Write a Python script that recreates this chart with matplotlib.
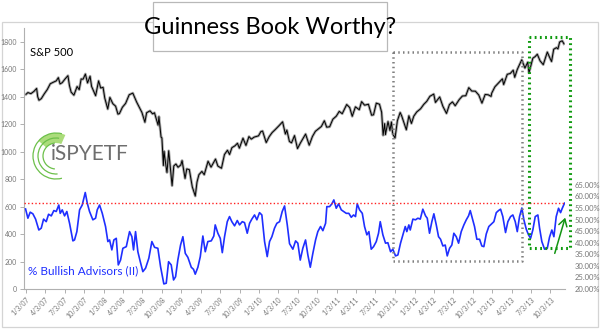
import matplotlib
matplotlib.use("Agg")
import matplotlib.pyplot as plt
from matplotlib.patches import Rectangle, Arc, Wedge
from datetime import datetime, date

# ---------------- data ----------------
sp_dates = [
    "2007-01-03", "2007-01-12", "2007-01-26", "2007-02-09", "2007-02-22", "2007-02-27", "2007-03-05",
    "2007-03-16", "2007-03-30", "2007-04-13", "2007-04-27", "2007-05-11", "2007-05-25", "2007-06-04",
    "2007-06-12", "2007-06-22", "2007-07-06", "2007-07-19", "2007-07-26", "2007-08-03", "2007-08-16",
    "2007-08-31", "2007-09-10", "2007-09-19", "2007-09-28", "2007-10-09", "2007-10-19", "2007-10-31",
    "2007-11-07", "2007-11-26", "2007-12-10", "2007-12-20", "2007-12-31",
    "2008-01-08", "2008-01-22", "2008-02-01", "2008-02-15", "2008-02-28", "2008-03-10", "2008-03-17",
    "2008-03-31", "2008-04-15", "2008-05-02", "2008-05-19", "2008-06-06", "2008-06-20", "2008-07-01",
    "2008-07-15", "2008-07-23", "2008-08-08", "2008-08-20", "2008-08-29", "2008-09-15", "2008-09-19",
    "2008-09-29", "2008-10-03", "2008-10-10", "2008-10-13", "2008-10-22", "2008-10-27", "2008-11-04",
    "2008-11-20", "2008-11-28", "2008-12-08", "2008-12-18", "2008-12-31",
    "2009-01-06", "2009-01-20", "2009-01-28", "2009-02-09", "2009-02-23", "2009-03-09", "2009-03-17",
    "2009-03-26", "2009-04-09", "2009-04-20", "2009-05-08", "2009-05-22", "2009-06-12", "2009-06-23",
    "2009-07-10", "2009-07-24", "2009-08-07", "2009-08-17", "2009-08-28", "2009-09-11", "2009-09-23",
    "2009-10-02", "2009-10-19", "2009-11-02", "2009-11-16", "2009-11-27", "2009-12-11", "2009-12-31",
    "2010-01-11", "2010-01-19", "2010-02-05", "2010-02-19", "2010-03-05", "2010-03-19", "2010-04-05",
    "2010-04-23", "2010-05-06", "2010-05-13", "2010-05-25", "2010-06-04", "2010-06-18", "2010-07-02",
    "2010-07-16", "2010-07-30", "2010-08-09", "2010-08-26", "2010-09-10", "2010-09-24", "2010-10-08",
    "2010-10-22", "2010-11-05", "2010-11-16", "2010-11-30", "2010-12-15", "2010-12-31",
    "2011-01-14", "2011-01-28", "2011-02-18", "2011-03-04", "2011-03-16", "2011-03-31", "2011-04-18",
    "2011-04-29", "2011-05-13", "2011-05-31", "2011-06-15", "2011-06-24", "2011-07-07", "2011-07-22",
    "2011-08-01", "2011-08-08", "2011-08-15", "2011-08-19", "2011-08-31", "2011-09-09", "2011-09-16",
    "2011-09-22", "2011-10-03", "2011-10-14", "2011-10-27", "2011-11-03", "2011-11-25", "2011-12-07",
    "2011-12-19", "2011-12-30",
    "2012-01-13", "2012-01-31", "2012-02-15", "2012-02-29", "2012-03-15", "2012-04-02", "2012-04-10",
    "2012-04-30", "2012-05-15", "2012-06-01", "2012-06-15", "2012-06-29", "2012-07-12", "2012-07-31",
    "2012-08-15", "2012-08-31", "2012-09-14", "2012-09-28", "2012-10-15", "2012-10-31", "2012-11-15",
    "2012-11-30", "2012-12-14", "2012-12-28", "2012-12-31",
    "2013-01-15", "2013-01-31", "2013-02-19", "2013-02-25", "2013-03-14", "2013-03-28", "2013-04-11",
    "2013-04-18", "2013-04-30", "2013-05-21", "2013-06-05", "2013-06-18", "2013-06-24", "2013-07-12",
    "2013-07-23", "2013-08-02", "2013-08-15", "2013-08-30", "2013-09-18", "2013-09-30", "2013-10-08",
    "2013-10-18", "2013-10-31", "2013-11-07", "2013-11-15", "2013-11-27", "2013-12-05",
]
sp_values = [
    1417, 1430, 1422, 1438, 1460, 1400, 1374,
    1386, 1421, 1452, 1494, 1505, 1515, 1539,
    1493, 1502, 1530, 1553, 1482, 1433, 1411,
    1474, 1451, 1529, 1527, 1565, 1500, 1549,
    1475, 1407, 1515, 1463, 1468,
    1390, 1310, 1395, 1349, 1331, 1273, 1277,
    1323, 1351, 1414, 1426, 1361, 1318, 1285,
    1214, 1283, 1297, 1275, 1283, 1193, 1255,
    1106, 1100, 899, 1003, 897, 848, 1006,
    752, 896, 910, 886, 903,
    935, 805, 874, 869, 743, 677, 778,
    832, 856, 832, 930, 887, 946, 895,
    879, 979, 1010, 979, 1029, 1042, 1061,
    1025, 1098, 1045, 1110, 1091, 1106, 1115,
    1146, 1150, 1066, 1109, 1139, 1160, 1187,
    1217, 1128, 1157, 1074, 1064, 1117, 1022,
    1064, 1102, 1128, 1047, 1110, 1148, 1166,
    1183, 1225, 1178, 1181, 1236, 1258,
    1293, 1276, 1343, 1321, 1257, 1326, 1305,
    1364, 1338, 1345, 1265, 1268, 1353, 1345,
    1287, 1119, 1204, 1124, 1219, 1154, 1216,
    1129, 1099, 1225, 1285, 1261, 1159, 1261,
    1205, 1258,
    1289, 1312, 1344, 1366, 1403, 1419, 1358,
    1398, 1330, 1278, 1343, 1362, 1334, 1379,
    1405, 1407, 1466, 1441, 1440, 1412, 1353,
    1416, 1414, 1402, 1426,
    1472, 1498, 1530, 1488, 1563, 1569, 1593,
    1541, 1598, 1669, 1608, 1651, 1573, 1680,
    1692, 1709, 1661, 1633, 1725, 1682, 1656,
    1745, 1757, 1748, 1798, 1807, 1785,
]

bull_years = [
    2007.000, 2007.030, 2007.060, 2007.094, 2007.129, 2007.171, 2007.202, 2007.232, 2007.266, 2007.296,
    2007.331, 2007.364, 2007.395, 2007.428, 2007.446, 2007.472, 2007.502, 2007.531, 2007.566, 2007.609,
    2007.630, 2007.660, 2007.695, 2007.729, 2007.768, 2007.794, 2007.823, 2007.866, 2007.901, 2007.922,
    2007.952, 2007.987, 2008.029, 2008.059, 2008.081, 2008.110, 2008.136, 2008.167, 2008.193, 2008.222,
    2008.252, 2008.296, 2008.338, 2008.368, 2008.389, 2008.415, 2008.445, 2008.476, 2008.509, 2008.544,
    2008.586, 2008.625, 2008.660, 2008.702, 2008.737, 2008.779, 2008.810, 2008.840, 2008.874, 2008.904,
    2008.930, 2008.959, 2008.994, 2009.024, 2009.055, 2009.088, 2009.132, 2009.161, 2009.183, 2009.217,
    2009.248, 2009.281, 2009.312, 2009.345, 2009.389, 2009.422, 2009.440, 2009.474, 2009.505, 2009.531,
    2009.560, 2009.595, 2009.624, 2009.654, 2009.689, 2009.724, 2009.753, 2009.788, 2009.817, 2009.852,
    2009.882, 2009.911, 2009.946, 2009.976, 2010.010, 2010.040, 2010.075, 2010.109, 2010.139, 2010.169,
    2010.203, 2010.233, 2010.268, 2010.302, 2010.332, 2010.367, 2010.396, 2010.439, 2010.474, 2010.503,
    2010.534, 2010.567, 2010.602, 2010.632, 2010.663, 2010.696, 2010.731, 2010.760, 2010.795, 2010.825,
    2010.860, 2010.876, 2010.911, 2010.941, 2010.966, 2010.997, 2011.027, 2011.062, 2011.091, 2011.126,
    2011.159, 2011.190, 2011.220, 2011.245, 2011.267, 2011.297, 2011.332, 2011.361, 2011.391, 2011.417,
    2011.447, 2011.477, 2011.512, 2011.541, 2011.563, 2011.597, 2011.631, 2011.661, 2011.696, 2011.725,
    2011.760, 2011.790, 2011.824, 2011.854, 2011.885, 2011.905, 2011.931, 2011.949, 2011.983, 2012.017,
    2012.047, 2012.078, 2012.111, 2012.146, 2012.168, 2012.197, 2012.227, 2012.253, 2012.284, 2012.313,
    2012.339, 2012.369, 2012.399, 2012.425, 2012.455, 2012.484, 2012.510, 2012.541, 2012.571, 2012.605,
    2012.639, 2012.670, 2012.699, 2012.721, 2012.747, 2012.776, 2012.806, 2012.841, 2012.870, 2012.896,
    2012.927, 2012.960, 2012.991, 2013.025, 2013.056, 2013.085, 2013.111, 2013.140, 2013.175, 2013.205,
    2013.240, 2013.269, 2013.300, 2013.326, 2013.355, 2013.385, 2013.411, 2013.442, 2013.471, 2013.497,
    2013.526, 2013.557, 2013.591, 2013.613, 2013.642, 2013.677, 2013.712, 2013.741, 2013.771, 2013.797,
    2013.827, 2013.857, 2013.883, 2013.905, 2013.934,
]
bull_pct = [
    54.6, 50.6, 53.2, 52.5, 50.2, 45.5, 46.3, 50.2, 49.1, 52.3,
    51.6, 53.9, 53.5, 56.3, 52.7, 54.2, 51.6, 53.5, 48.4, 40.8,
    41.2, 44.8, 54.2, 56.3, 61.7, 57.1, 53.5, 49.9, 50.6, 54.2,
    56.3, 52.7, 47.0, 40.5, 41.2, 36.9, 41.2, 41.9, 30.4, 32.5,
    37.6, 38.3, 44.8, 42.6, 36.9, 44.8, 36.1, 31.8, 27.5, 29.0,
    33.3, 40.5, 38.0, 37.6, 29.6, 22.2, 22.5, 31.8, 30.4, 23.9,
    25.3, 32.5, 39.0, 42.6, 35.4, 33.7, 29.4, 28.5, 26.4, 29.4,
    34.0, 42.9, 36.1, 40.5, 40.8, 42.9, 47.7, 44.1, 41.9, 35.7,
    42.6, 49.1, 51.3, 49.1, 47.3, 49.6, 47.7, 49.1, 48.7, 44.1,
    48.4, 50.2, 52.0, 49.9, 53.0, 52.0, 40.5, 34.0, 40.5, 42.6,
    46.3, 48.4, 49.1, 53.5, 55.9, 47.7, 39.6, 37.2, 40.8, 39.8,
    32.5, 37.6, 41.2, 34.7, 29.4, 35.4, 41.2, 44.8, 47.0, 45.2,
    48.4, 55.6, 55.6, 56.8, 58.5, 54.9, 56.8, 54.2, 53.5, 52.7,
    52.7, 51.0, 52.0, 51.3, 56.8, 54.2, 52.7, 47.0, 43.4, 44.8,
    37.2, 38.3, 40.5, 44.1, 49.1, 43.4, 39.8, 40.0, 36.1, 37.2,
    34.3, 34.7, 39.8, 43.4, 47.0, 44.8, 47.7, 45.5, 50.2, 49.9,
    50.6, 50.2, 54.5, 51.6, 50.6, 44.1, 49.1, 52.5, 47.7, 42.6,
    41.5, 38.6, 39.0, 34.3, 37.6, 39.0, 44.1, 42.6, 39.8, 44.8,
    47.7, 49.9, 51.6, 53.9, 50.6, 47.0, 41.5, 41.5, 38.6, 38.3,
    43.8, 47.0, 48.0, 49.1, 53.0, 53.9, 54.5, 51.3, 44.4, 49.1,
    51.3, 52.0, 49.1, 44.8, 51.3, 55.0, 49.9, 45.8, 43.4, 41.9,
    45.5, 51.3, 52.0, 46.3, 40.5, 37.2, 37.6, 42.4, 45.5, 42.6,
    51.3, 54.9, 53.0, 54.9, 57.1,
]

tick_labels = [
    "1/3/07", "4/3/07", "7/3/07", "10/3/07", "1/3/08", "4/3/08", "7/3/08", "10/3/08",
    "1/3/09", "4/3/09", "7/3/09", "10/3/09", "1/3/10", "4/3/10", "7/3/10", "10/3/10",
    "1/3/11", "4/3/11", "7/3/11", "10/3/11", "1/3/12", "4/3/12", "7/3/12", "10/3/12",
    "1/3/13", "4/3/13", "7/3/13", "10/3/13",
]
left_ticks = [0, 200, 400, 600, 800, 1000, 1200, 1400, 1600, 1800]
right_ticks = [20, 25, 30, 35, 40, 45, 50, 55, 60, 65]
threshold_pct = 57.2

# annotation boxes (date as decimal year, value on S&P scale)
gray_box = (2011.727, 204, 2013.387, 1727)
green_box = (2013.477, 299, 2014.004, 1837)
arrow_tail = (2013.798, 240)
arrow_head = (2013.953, 539)


def dec_year(d):
    y0 = date(d.year, 1, 1)
    y1 = date(d.year + 1, 1, 1)
    return d.year + (d - y0).days / (y1 - y0).days


sp_x = [dec_year(datetime.strptime(s, "%Y-%m-%d").date()) for s in sp_dates]
tick_x = [dec_year(datetime.strptime(s, "%m/%d/%y").date()) for s in tick_labels]

plt.rcParams["font.family"] = ["Lato", "DejaVu Sans"]

W, H = 600, 330
fig = plt.figure(figsize=(6, 3.3), dpi=100)
fig.patch.set_facecolor("white")

# overlay for border (behind)
bg = fig.add_axes([0, 0, 1, 1], zorder=0)
bg.set_xlim(0, W)
bg.set_ylim(H, 0)
bg.axis("off")
bg.add_patch(Rectangle((2, 22), 596, 305, fill=False, ec="#d4d4d4", lw=0.9))

ax = fig.add_axes([24 / W, 41 / H, 541 / W, 261 / H], zorder=1)
ax.set_facecolor("none")
ax2 = ax.twinx()

ax.plot(sp_x, sp_values, color="#a8a8a8", lw=2.0, solid_joinstyle="round")
ax.plot(sp_x, sp_values, color="black", lw=0.7)

ax2.plot(bull_years, bull_pct, color="#1f2fff", lw=1.2)
ax2.axhline(threshold_pct, color="#ff2020", lw=1.0, ls=(0, (1, 1.6)))

XL = (2006.98, 2013.94)
ax.set_xlim(*XL)
ax.set_ylim(0, 1900)
ax2.set_ylim(20, 20 + 1900 * 45 / 758)

ax.set_yticks(left_ticks)
ax.set_yticklabels([str(v) for v in left_ticks])
ax2.set_yticks(right_ticks)
ax2.set_yticklabels([f"{v:.2f}%" for v in right_ticks])
ax.set_xticks(tick_x)
ax.set_xticklabels(tick_labels, rotation=45, ha="right", va="top", rotation_mode="anchor")

for a in (ax, ax2):
    for s in ("top", "right"):
        a.spines[s].set_visible(False)
ax2.spines["left"].set_visible(False)
ax2.spines["bottom"].set_visible(False)
ax.spines["left"].set_color("#b0b0b0")
ax.spines["bottom"].set_color("#b0b0b0")
ax.spines["left"].set_linewidth(0.8)
ax.spines["bottom"].set_linewidth(0.8)

ax.tick_params(axis="y", labelsize=5, colors="#b0b0b0", labelcolor="#777777", length=3, width=0.7, pad=2)
ax.tick_params(axis="x", labelsize=5, colors="#b0b0b0", labelcolor="#777777", length=3, width=0.7, pad=2)
ax2.tick_params(axis="y", labelsize=5.5, labelcolor="#777777", length=0, pad=7)

# dotted boxes and arrow
gx0, gy0, gx1, gy1 = gray_box
ax2.plot([gx0, gx1, gx1, gx0, gx0], [gy1, gy1, gy0, gy0, gy1], transform=ax.transData,
         color="#808080", lw=1.8, ls=(0, (0.6, 1.3)), clip_on=False)
hx0, hy0, hx1, hy1 = green_box
ax2.plot([hx0, hx1, hx1, hx0, hx0], [hy1, hy1, hy0, hy0, hy1], transform=ax.transData,
         color="#0f9a0f", lw=2.2, ls=(0, (0.6, 1.1)), clip_on=False)
ax2.annotate("", xy=arrow_head, xytext=arrow_tail, xycoords=ax.transData, textcoords=ax.transData,
             arrowprops=dict(arrowstyle="->,head_length=0.5,head_width=0.3", color="#129412", lw=1.1),
             annotation_clip=False)

# overlay (front) for text, title and logo
fg = fig.add_axes([0, 0, 1, 1], zorder=5)
fg.set_xlim(0, W)
fg.set_ylim(H, 0)
fg.axis("off")
fg.patch.set_visible(False)

fg.add_patch(Rectangle((153, 2), 234, 49, fc="white", ec="#b8b8b8", lw=0.9))
fg.text(270, 28, "Guinness Book Worthy?", fontsize=17, ha="center", va="center", color="black")

fg.text(30, 52, "S&P 500", fontsize=8, ha="left", va="center", color="black")
fg.text(28, 271, "% Bullish Advisors (II)", fontsize=8.5, ha="left", va="center", color="#1f2fff")

# logo
cx, cy = 56, 156
fg.add_patch(Wedge((cx, cy), 23, 221, 294, width=10, fc="#8fd14f", ec="none", alpha=0.75))
for r, t1, t2 in [(23, 75, 285), (18, 85, 280), (13, 95, 265)]:
    fg.add_patch(Arc((cx, cy), 2 * r, 2 * r, theta1=t1, theta2=t2, color="#6cc04a", lw=0.9))
fg.text(51, 160, "iSPYETF", fontsize=15, ha="left", va="baseline", color="#6e6e6e")

fig.savefig("out.png", dpi=100, facecolor="white")
